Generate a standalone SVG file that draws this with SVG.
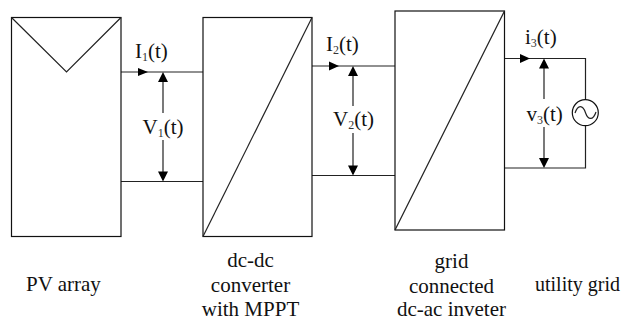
<svg xmlns="http://www.w3.org/2000/svg" width="621" height="320" viewBox="0 0 621 320">
<style>
.b{fill:#fff;stroke:#111;stroke-width:1.2}
.l{fill:none;stroke:#222;stroke-width:1.2}
text{font-family:"Liberation Serif","Times New Roman",serif;font-size:21px;fill:#111}
.m{text-anchor:middle}
.s{font-size:12px;fill:#333}
.u{font-size:20px}
</style>
<rect width="621" height="320" fill="#fff"/>
<g id="connectors">
<path class="l" d="M121 72H203M121 181.500H203M312 66H395M312 175.500H395M504.500 58.500H585.500V100M504.500 168H585.500V126"/>
<path d="M138 68L148 72L138 76Z M329 61.500L339 66L329 70.500Z M520 54L530 58.500L520 63Z" fill="#000"/>
<path class="l" d="M163 80V113M163 140V173M353 74V106M353 133V167M544 66V99M544 127V160"/>
<path d="M163 72L168 82H158Z M163 181.500L168 171.500H158Z M353 66L358 76H348Z M353 175.500L358 165.500H348Z M544 58.500L549 68.500H539Z M544 168L549 158H539Z" fill="#000"/>
</g>
<g id="pv-array">
<rect class="b" x="11.500" y="17.500" width="109.500" height="219"/>
<path class="l" d="M11.500 17.500L66.500 72L121 17.500"/>
<text x="26" y="291">PV array</text>
</g>
<g id="dc-dc-converter">
<rect class="b" x="203" y="17.500" width="109" height="219"/>
<path class="l" d="M203 236.500L312 17.500"/>
<text class="m" x="250.500" y="267">dc-dc</text>
<text class="m" x="250.500" y="292">converter</text>
<text class="m" x="250.500" y="316">with MPPT</text>
</g>
<g id="inverter">
<rect class="b" x="395" y="11" width="109.500" height="219"/>
<path class="l" d="M395 230L504.500 11"/>
<text class="m" x="451.500" y="268">grid</text>
<text class="m" x="451.500" y="293">connected</text>
<text class="m" x="451.500" y="316">dc-ac inveter</text>
</g>
<g id="utility-grid">
<circle class="b" cx="585.300" cy="112.700" r="13"/>
<path class="l" d="M575 113C578 104 583 105 585.500 112.700C588 120 593 121 596 112"/>
<text class="u" x="535" y="291">utility grid</text>
</g>
<g id="labels">
<text x="135" y="58">I<tspan class="s" dy="3">1</tspan><tspan dy="-3">(t)</tspan></text>
<text x="142.500" y="134">V<tspan class="s" dy="3">1</tspan><tspan dy="-3">(t)</tspan></text>
<text x="326" y="51">I<tspan class="s" dy="3">2</tspan><tspan dy="-3">(t)</tspan></text>
<text x="333" y="126">V<tspan class="s" dy="3">2</tspan><tspan dy="-3">(t)</tspan></text>
<text x="525" y="44">i<tspan class="s" dy="3">3</tspan><tspan dy="-3">(t)</tspan></text>
<text x="526.500" y="121">v<tspan class="s" dy="3">3</tspan><tspan dy="-3">(t)</tspan></text>
</g>
</svg>
